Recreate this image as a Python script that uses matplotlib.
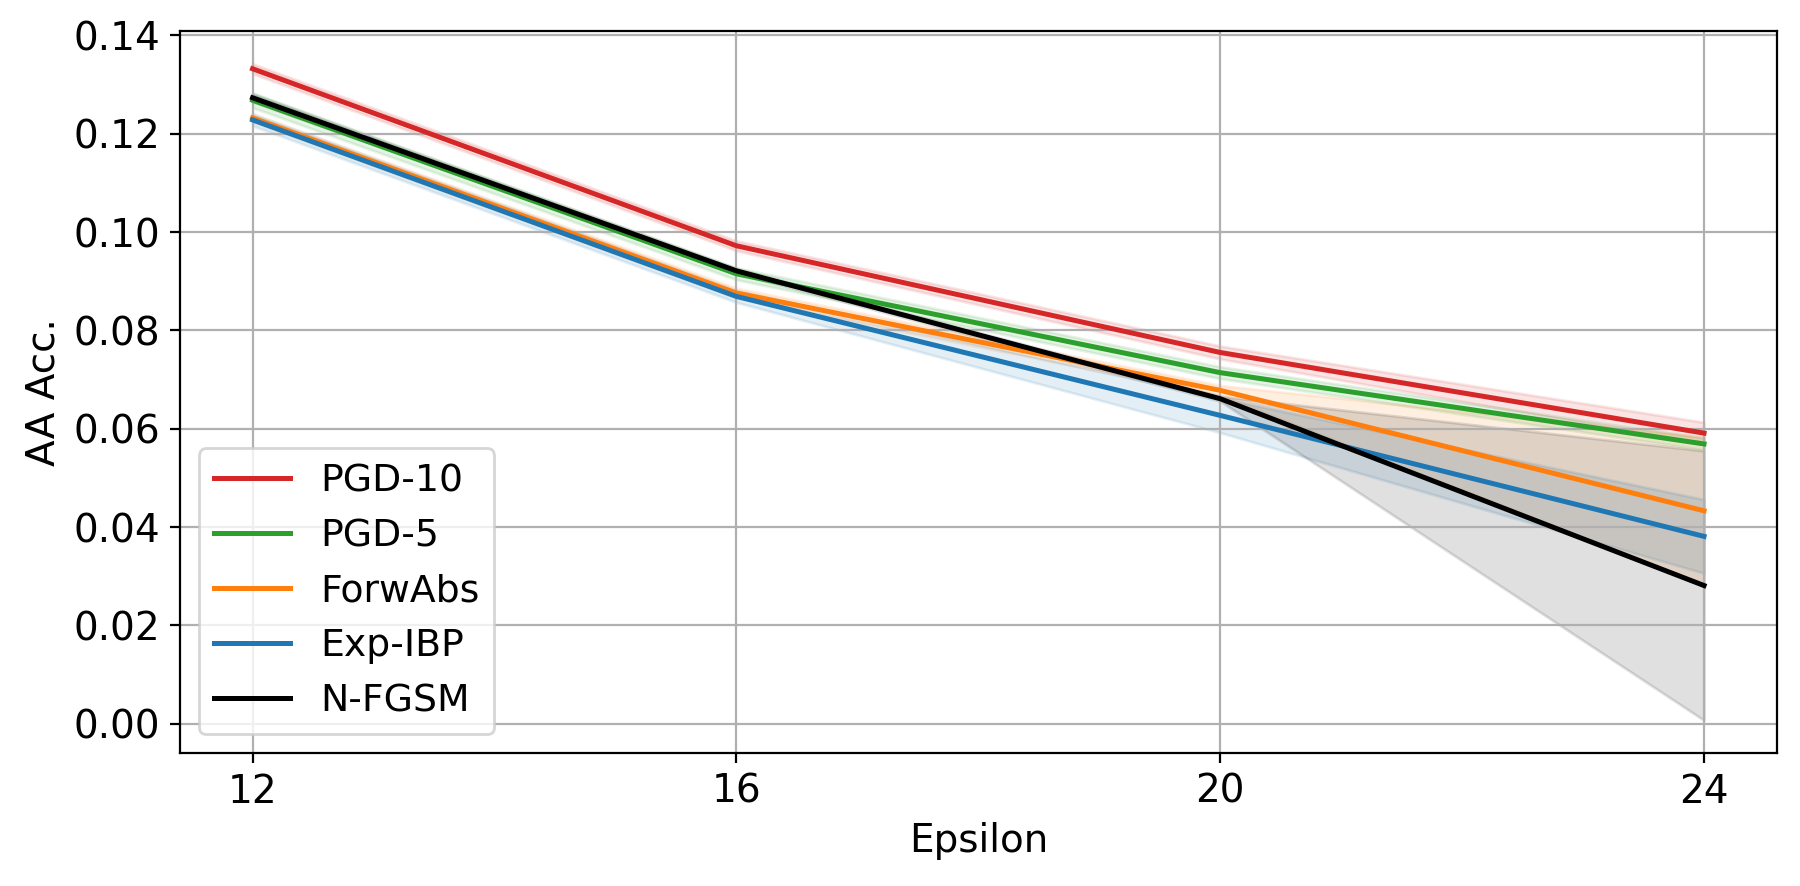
import numpy as np
import matplotlib
matplotlib.use("Agg")
import matplotlib.pyplot as plt

# Epsilon values on the x axis
eps = np.array([12, 16, 20, 24])

# AA accuracy (mean and std over runs)
pgd10_mean = np.array([0.1332, 0.0972, 0.0755, 0.0591])
pgd10_std = np.array([0.0010, 0.0010, 0.0013, 0.0022])
pgd5_mean = np.array([0.1268, 0.0915, 0.0714, 0.0569])
pgd5_std = np.array([0.0015, 0.0012, 0.0012, 0.0012])
forwabs_mean = np.array([0.1232, 0.0876, 0.0678, 0.0433])
forwabs_std = np.array([0.0008, 0.0010, 0.0010, 0.0150])
expibp_mean = np.array([0.1228, 0.0869, 0.0627, 0.0381])
expibp_std = np.array([0.0012, 0.0012, 0.0035, 0.0075])
nfgsm_mean = np.array([0.1273, 0.0921, 0.0661, 0.0281])
nfgsm_std = np.array([0.0008, 0.0005, 0.0005, 0.0274])

series = [
    ("PGD-10", pgd10_mean, pgd10_std, "tab:red"),
    ("PGD-5", pgd5_mean, pgd5_std, "tab:green"),
    ("ForwAbs", forwabs_mean, forwabs_std, "tab:orange"),
    ("Exp-IBP", expibp_mean, expibp_std, "tab:blue"),
    ("N-FGSM", nfgsm_mean, nfgsm_std, "black"),
]

plt.rcParams["font.size"] = 14
fig, ax = plt.subplots(figsize=(9, 4.43), dpi=200)
fig.subplots_adjust(left=0.1, right=0.987, top=0.965, bottom=0.150)

for name, mean, std, color in series:
    ax.plot(eps, mean, color=color, linewidth=1.8, label=name)
    ax.fill_between(eps, mean - std, mean + std, color=color, alpha=0.12)

ax.set_xticks(eps)
ax.set_xlabel("Epsilon")
ax.set_ylabel("AA Acc.")
ax.grid(True)
ax.legend(loc="lower left", fontsize=13.6)

fig.savefig("out.png")
